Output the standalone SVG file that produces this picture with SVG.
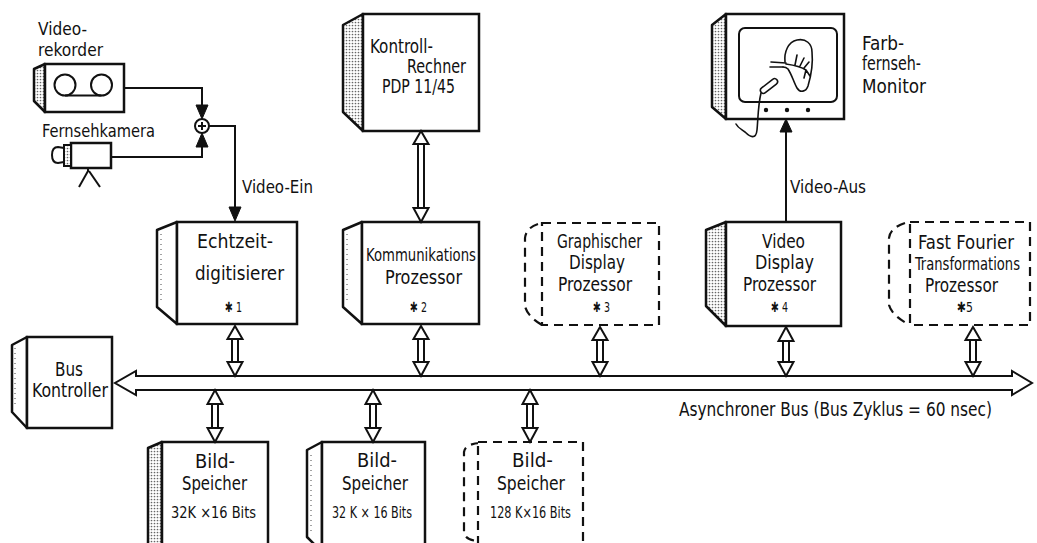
<svg xmlns="http://www.w3.org/2000/svg" width="1037" height="543" viewBox="0 0 1037 543">
  <defs>
    <pattern id="stip" width="3" height="3" patternUnits="userSpaceOnUse">
      <rect width="3" height="3" fill="#ffffff"/>
      <circle cx="1.5" cy="1.5" r="0.85" fill="#666"/>
    </pattern>
    <style>
      .box{fill:#fff;stroke:#111;stroke-width:2.5;stroke-linejoin:miter}
      .dash{fill:#fff;stroke:#111;stroke-width:2.2;stroke-dasharray:9 6}
      .side{fill:url(#stip);stroke:#111;stroke-width:2.5;stroke-linejoin:round}
      .sidel{fill:#fff;stroke:#111;stroke-width:2.5;stroke-linejoin:round}
      .dots{fill:none;stroke:#444;stroke-width:1;stroke-dasharray:1 4}
      .ln{fill:none;stroke:#111;stroke-width:2}
      .thin{fill:none;stroke:#111;stroke-width:1.6;stroke-linecap:round;stroke-linejoin:round}
      .head{fill:#111;stroke:#111;stroke-width:1}
      .hol{fill:#fff;stroke:#111;stroke-width:2;stroke-linejoin:miter}
      .t{font-family:"DejaVu Sans Condensed","DejaVu Sans","Liberation Sans",sans-serif;font-size:19px;fill:#111}
      .r{font-size:17.5px}
      .s{font-size:17px}
      .m{font-size:15px}
      .n{font-size:14px}
    </style>
  </defs>

  <!-- Videorekorder -->
  <g id="videorekorder">
    <polygon class="side" points="45,64 34,69 34,101 45,112"/>
    <rect class="box" x="45" y="64" width="79" height="48"/>
    <circle class="ln" cx="65" cy="85" r="10.5"/>
    <circle class="ln" cx="101.5" cy="85" r="10.5"/>
    <line class="ln" x1="65" y1="95.5" x2="101.5" y2="95.5"/>
    <text class="t s" x="38" y="35" textLength="49" lengthAdjust="spacingAndGlyphs">Video-</text>
    <text class="t s" x="38" y="56" textLength="65" lengthAdjust="spacingAndGlyphs">rekorder</text>
  </g>

  <!-- Fernsehkamera -->
  <g id="fernsehkamera">
    <rect class="box" x="71" y="143" width="40" height="25"/>
    <rect x="64" y="145" width="7" height="21" fill="url(#stip)" stroke="#111" stroke-width="2"/>
    <path class="ln" d="M64,148 L58,147 Q52,147 52,155 Q52,163 58,163 L64,162"/>
    <line class="ln" x1="88" y1="168" x2="88" y2="172"/>
    <line class="ln" x1="88" y1="171" x2="79" y2="187"/>
    <line class="ln" x1="89" y1="171" x2="100" y2="187"/>
    <text class="t s" x="42" y="137" textLength="113" lengthAdjust="spacingAndGlyphs">Fernsehkamera</text>
  </g>

  <!-- Mischstelle -->
  <g id="mischer">
    <circle cx="202" cy="126" r="7" fill="#fff" stroke="#111" stroke-width="2"/>
    <line class="ln" x1="198" y1="126" x2="206" y2="126"/>
    <line class="ln" x1="202" y1="122" x2="202" y2="130"/>
  </g>

  <!-- Kontroll-Rechner -->
  <g id="kontroll-rechner">
    <polygon class="side" points="363,14 343,25 343,112 363,131"/>
    <rect class="box" x="363" y="14" width="116" height="117"/>
    <text class="t" x="370" y="53" textLength="63" lengthAdjust="spacingAndGlyphs">Kontroll-</text>
    <text class="t" x="407" y="73" textLength="59" lengthAdjust="spacingAndGlyphs">Rechner</text>
    <text class="t" x="382" y="93" textLength="73" lengthAdjust="spacingAndGlyphs">PDP 11/45</text>
  </g>

  <!-- Farbfernseh-Monitor -->
  <g id="monitor">
    <polygon class="side" points="726,14 712,25 712,107 726,119"/>
    <rect class="box" x="726" y="14" width="118" height="105"/>
    <rect x="739" y="28" width="98" height="74" rx="6" fill="none" stroke="#111" stroke-width="2"/>
    <circle cx="766" cy="110" r="2.2" fill="#111"/>
    <circle cx="787" cy="110" r="2.2" fill="#111"/>
    <circle cx="808" cy="110" r="2.2" fill="#111"/>
    <path class="thin" d="M785,62 C784,52 788,42 797,40 C806,38 812,44 812,52 C813,62 811,76 808,86 C806,92 800,93 797,88 C794,83 792,75 788,69 C786,67 784,67 783,67"/>
    <path class="thin" d="M771,62 L786,63 M770,67 L783,67 M786,64 C793,65 800,66 806,70 M795,65 L797,55 M800,66 L804,58 M804,68 L809,62 M806,70 L810,76 M806,70 L804,78"/>
    <rect x="759" y="83" width="20" height="6" rx="3" fill="#fff" stroke="#111" stroke-width="1.6" transform="rotate(-38 769 86)"/>
    <path class="thin" d="M761,93 C758,105 758,120 757,130 C756,140 750,137 745,132 C741,129 738,128 736,124"/>
    <text class="t" x="862" y="50" textLength="42" lengthAdjust="spacingAndGlyphs">Farb-</text>
    <text class="t" x="862" y="70" textLength="59" lengthAdjust="spacingAndGlyphs">fernseh-</text>
    <text class="t" x="862" y="93" textLength="64" lengthAdjust="spacingAndGlyphs">Monitor</text>
  </g>

  <!-- Prozessoren am Bus -->
  <g id="echtzeitdigitisierer">
    <polygon class="sidel" points="177,222 157,230 157,307 177,324"/>
    <line class="dots" x1="161" y1="234" x2="161" y2="304"/>
    <rect class="box" x="177" y="222" width="120" height="102"/>
    <text class="t" x="197" y="248" textLength="76" lengthAdjust="spacingAndGlyphs">Echtzeit-</text>
    <text class="t" x="195" y="280" textLength="89" lengthAdjust="spacingAndGlyphs">digitisierer</text>
    <text class="t n" x="225" y="312" textLength="17" lengthAdjust="spacingAndGlyphs">✱ 1</text>
  </g>

  <g id="kommunikationsprozessor">
    <polygon class="sidel" points="362,222 343,230 343,307 362,324"/>
    <line class="dots" x1="347" y1="234" x2="347" y2="304"/>
    <rect class="box" x="362" y="222" width="117" height="102"/>
    <text class="t r" x="366" y="261" textLength="110" lengthAdjust="spacingAndGlyphs">Kommunikations</text>
    <text class="t" x="385" y="284" textLength="77" lengthAdjust="spacingAndGlyphs">Prozessor</text>
    <text class="t n" x="410" y="312" textLength="17" lengthAdjust="spacingAndGlyphs">✱ 2</text>
  </g>

  <g id="graphischer-display-prozessor">
    <path class="dash" d="M538,224 Q526,228 525,238 V306 Q527,316 542,325"/>
    <rect class="dash" x="542" y="223" width="117" height="102"/>
    <text class="t" x="557" y="248" textLength="85" lengthAdjust="spacingAndGlyphs">Graphischer</text>
    <text class="t" x="569" y="269" textLength="56" lengthAdjust="spacingAndGlyphs">Display</text>
    <text class="t" x="558" y="291" textLength="74" lengthAdjust="spacingAndGlyphs">Prozessor</text>
    <text class="t n" x="593" y="312" textLength="17" lengthAdjust="spacingAndGlyphs">✱ 3</text>
  </g>

  <g id="video-display-prozessor">
    <polygon class="side" points="726,222 706,230 706,306 726,326"/>
    <rect class="box" x="726" y="222" width="115" height="104"/>
    <text class="t" x="762" y="248" textLength="43" lengthAdjust="spacingAndGlyphs">Video</text>
    <text class="t" x="755" y="269" textLength="59" lengthAdjust="spacingAndGlyphs">Display</text>
    <text class="t" x="743" y="291" textLength="73" lengthAdjust="spacingAndGlyphs">Prozessor</text>
    <text class="t n" x="771" y="312" textLength="17" lengthAdjust="spacingAndGlyphs">✱ 4</text>
  </g>

  <g id="fft-prozessor">
    <path class="dash" d="M905,223 Q890,228 889,238 V305 Q892,316 910,325"/>
    <rect class="dash" x="910" y="222" width="120" height="103"/>
    <text class="t" x="918" y="249" textLength="96" lengthAdjust="spacingAndGlyphs">Fast Fourier</text>
    <text class="t r" x="915" y="270" textLength="105" lengthAdjust="spacingAndGlyphs">Transformations</text>
    <text class="t" x="925" y="292" textLength="73" lengthAdjust="spacingAndGlyphs">Prozessor</text>
    <text class="t n" x="957" y="312" textLength="16" lengthAdjust="spacingAndGlyphs">✱5</text>
  </g>

  <g id="bus-kontroller">
    <polygon class="sidel" points="27,337 12,345 12,412 27,428"/>
    <line class="dots" x1="15" y1="348" x2="15" y2="408"/>
    <rect class="box" x="27" y="337" width="85" height="91"/>
    <text class="t" x="55" y="376" textLength="28" lengthAdjust="spacingAndGlyphs">Bus</text>
    <text class="t" x="32" y="397" textLength="76" lengthAdjust="spacingAndGlyphs">Kontroller</text>
  </g>

  <!-- Bildspeicher -->
  <g id="bildspeicher-1">
    <polygon class="side" points="162,442 148,448 148,546 162,546"/>
    <rect class="box" x="162" y="442" width="106" height="104"/>
    <text class="t" x="195" y="468" textLength="40" lengthAdjust="spacingAndGlyphs">Bild-</text>
    <text class="t" x="182" y="490" textLength="65" lengthAdjust="spacingAndGlyphs">Speicher</text>
    <text class="t m" x="171" y="518" textLength="85" lengthAdjust="spacingAndGlyphs">32K ×16 Bits</text>
  </g>

  <g id="bildspeicher-2">
    <polygon class="sidel" points="322,442 307,450 307,537 316,546 322,546"/>
    <line class="dots" x1="311" y1="455" x2="311" y2="535"/>
    <rect class="box" x="322" y="442" width="103" height="104"/>
    <text class="t" x="357" y="467" textLength="40" lengthAdjust="spacingAndGlyphs">Bild-</text>
    <text class="t" x="342" y="490" textLength="66" lengthAdjust="spacingAndGlyphs">Speicher</text>
    <text class="t m" x="332" y="518" textLength="80" lengthAdjust="spacingAndGlyphs">32 K × 16 Bits</text>
  </g>

  <g id="bildspeicher-3">
    <path class="dash" d="M480,443 Q465,444 464,452 V532 Q465,540 478,541"/>
    <rect class="dash" x="478" y="442" width="105" height="104"/>
    <text class="t" x="512" y="467" textLength="41" lengthAdjust="spacingAndGlyphs">Bild-</text>
    <text class="t" x="497" y="490" textLength="68" lengthAdjust="spacingAndGlyphs">Speicher</text>
    <text class="t m" x="490" y="518" textLength="81" lengthAdjust="spacingAndGlyphs">128 K×16 Bits</text>
  </g>

  <!-- Verbindungen -->
  <g id="connectors">
    <!-- Videoquellen zur Mischstelle -->
    <polyline class="ln" points="124,88 202,88 202,105"/>
    <polygon class="head" points="196,105 208,105 202,119"/>
    <polyline class="ln" points="111,157 202,157 202,147"/>
    <polygon class="head" points="196,147 208,147 202,133"/>
    <!-- Video-Ein -->
    <polyline class="ln" points="209,126 235,126 235,207"/>
    <polygon class="head" points="229,207 241,207 235,221"/>
    <text class="t s" x="242" y="193" textLength="71" lengthAdjust="spacingAndGlyphs">Video-Ein</text>
    <!-- Video-Aus -->
    <line class="ln" x1="786" y1="132" x2="786" y2="222"/>
    <polygon class="head" points="780,132 792,132 786,119"/>
    <text class="t s" x="790" y="193" textLength="76" lengthAdjust="spacingAndGlyphs">Video-Aus</text>

    <!-- Asynchroner Bus -->
    <polygon class="hol" stroke-width="2.5" points="136,376 1012,376 1012,371 1032,383 1012,395 1012,390 136,390 136,395 115,383 136,371"/>
    <text class="t" x="679" y="416" textLength="313" lengthAdjust="spacingAndGlyphs">Asynchroner Bus (Bus  Zyklus = 60 nsec)</text>

    <!-- Doppelpfeil: Kontroll-Rechner -->
    <g>
      <line class="ln" x1="418" y1="144" x2="418" y2="208"/>
      <line class="ln" x1="424" y1="144" x2="424" y2="208"/>
      <polygon class="hol" points="421,131 428.5,144 413.5,144"/>
      <polygon class="hol" points="421,222 428.5,208 413.5,208"/>
    </g>
    <!-- Prozessoren zum Bus -->
    <g>
      <line class="ln" x1="232" y1="339" x2="232" y2="362"/>
      <line class="ln" x1="238" y1="339" x2="238" y2="362"/>
      <polygon class="hol" points="235,326 242.5,339 227.5,339"/>
      <polygon class="hol" points="235,376 242.5,362 227.5,362"/>
    </g>
    <g>
      <line class="ln" x1="418" y1="339" x2="418" y2="362"/>
      <line class="ln" x1="424" y1="339" x2="424" y2="362"/>
      <polygon class="hol" points="421,326 428.5,339 413.5,339"/>
      <polygon class="hol" points="421,376 428.5,362 413.5,362"/>
    </g>
    <g>
      <line class="ln" x1="597" y1="340" x2="597" y2="362"/>
      <line class="ln" x1="603" y1="340" x2="603" y2="362"/>
      <polygon class="hol" points="600,327 607.5,340 592.5,340"/>
      <polygon class="hol" points="600,376 607.5,362 592.5,362"/>
    </g>
    <g>
      <line class="ln" x1="783" y1="341" x2="783" y2="362"/>
      <line class="ln" x1="789" y1="341" x2="789" y2="362"/>
      <polygon class="hol" points="786,327 793.5,341 778.5,341"/>
      <polygon class="hol" points="786,376 793.5,362 778.5,362"/>
    </g>
    <g>
      <line class="ln" x1="970" y1="340" x2="970" y2="362"/>
      <line class="ln" x1="976" y1="340" x2="976" y2="362"/>
      <polygon class="hol" points="973,327 980.5,340 965.5,340"/>
      <polygon class="hol" points="973,376 980.5,362 965.5,362"/>
    </g>
    <!-- Bildspeicher zum Bus -->
    <g>
      <line class="ln" x1="212" y1="404" x2="212" y2="428"/>
      <line class="ln" x1="218" y1="404" x2="218" y2="428"/>
      <polygon class="hol" points="215,390 222.5,404 207.5,404"/>
      <polygon class="hol" points="215,442 222.5,428 207.5,428"/>
    </g>
    <g>
      <line class="ln" x1="370" y1="404" x2="370" y2="428"/>
      <line class="ln" x1="376" y1="404" x2="376" y2="428"/>
      <polygon class="hol" points="373,390 380.5,404 365.5,404"/>
      <polygon class="hol" points="373,442 380.5,428 365.5,428"/>
    </g>
    <g>
      <line class="ln" x1="527" y1="404" x2="527" y2="428"/>
      <line class="ln" x1="533" y1="404" x2="533" y2="428"/>
      <polygon class="hol" points="530,390 537.5,404 522.5,404"/>
      <polygon class="hol" points="530,442 537.5,428 522.5,428"/>
    </g>
  </g>
</svg>
